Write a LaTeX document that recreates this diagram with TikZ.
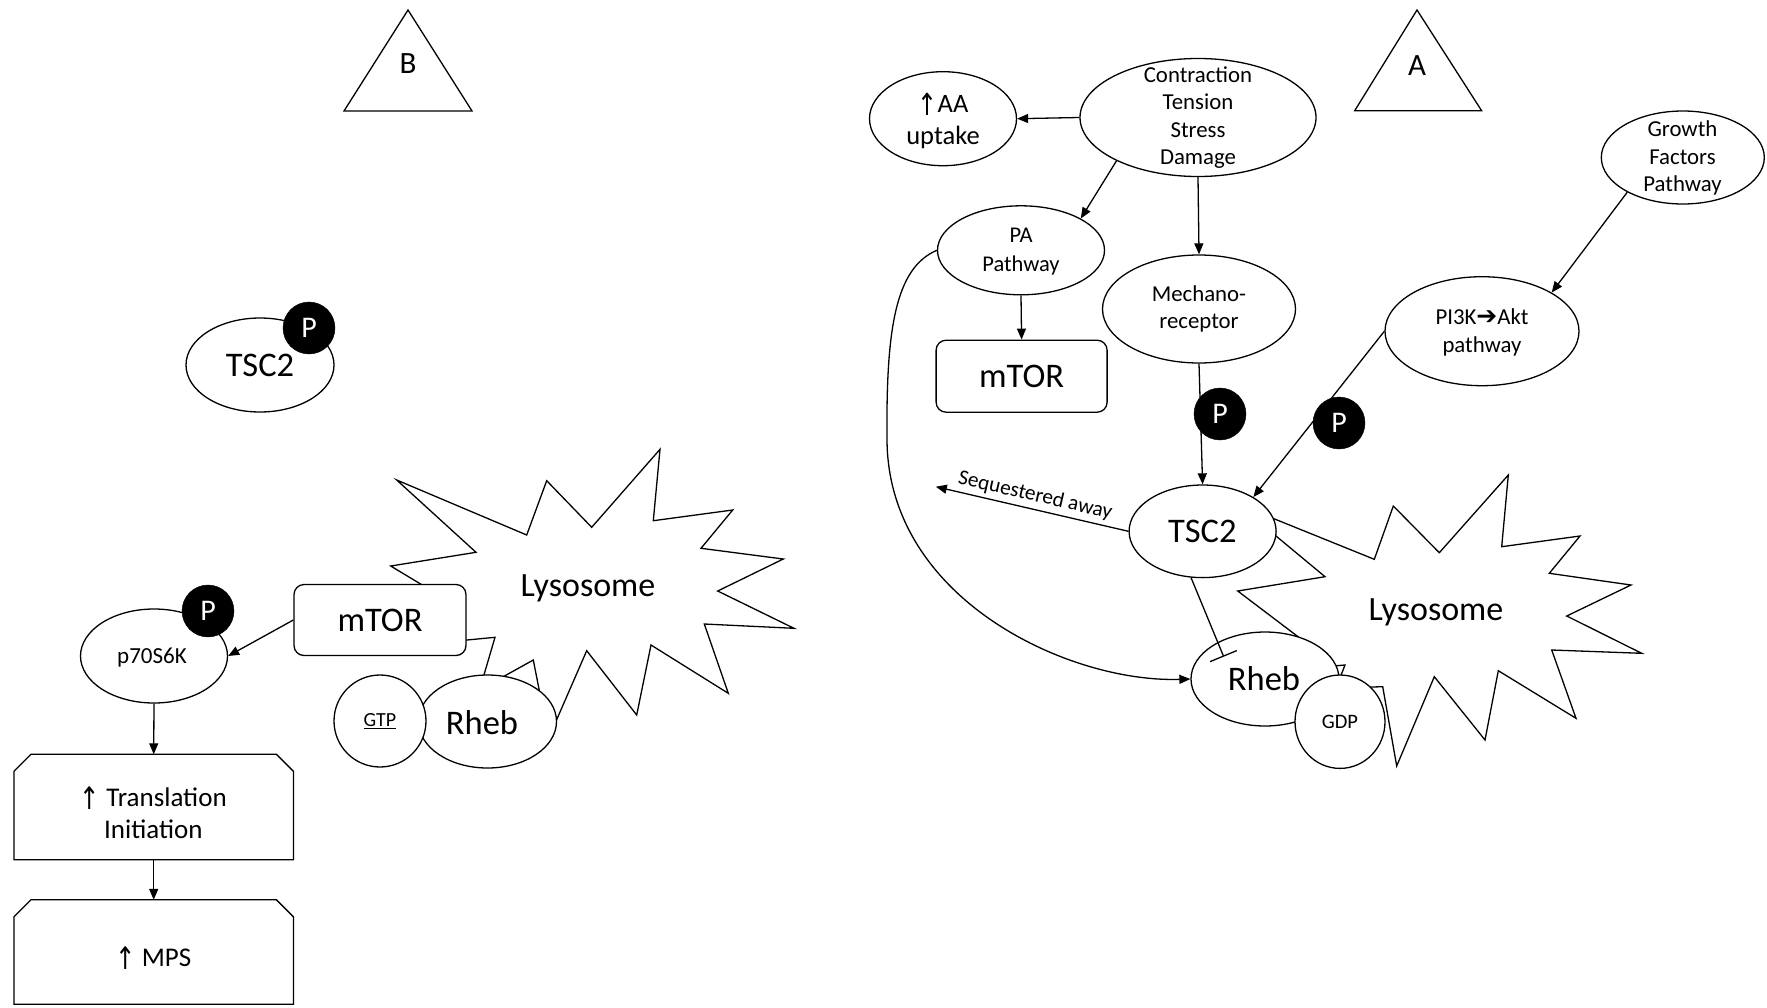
\documentclass[tikz,border=0pt]{standalone}
\usepackage{graphicx}
\usepackage{fontspec}
\setmainfont{Carlito}
\newfontfamily\symf{DejaVu Sans}
\usetikzlibrary{arrows.meta,shapes.geometric,calc}
\newcommand\myfs[2]{\fontsize{#1}{#2}\selectfont}
\newcommand\upar{{\symf\raisebox{-0.1em}{\scalebox{0.9}[1.15]{↑}}}}
\tikzset{
  ln/.style={line width=1.3pt},
  ell/.style={ellipse, draw, fill=white, line width=1.3pt, inner sep=0pt},
  circ/.style={circle, draw, fill=white, line width=1.3pt, inner sep=0pt},
  pc/.style={circle, fill=black, draw=black, inner sep=0pt, minimum size=52pt, text=white, font=\myfs{30}{30}},
  lbl/.style={align=center, inner sep=0pt},
  rbox/.style={rectangle, rounded corners=10pt, draw, fill=white, line width=1.3pt, inner sep=0pt},
  geo/.style={rectangle, inner sep=0pt, draw=none},
  arr/.style={-{Triangle[length=11pt,width=9pt]}, line width=1.3pt},
  star/.style={draw, fill=white, line width=1.3pt, line join=miter},
  big/.style={lbl, font=\myfs{34.5}{34.5}},
  tri/.style={lbl, font=\myfs{31}{31}},
  mid/.style={lbl, font=\myfs{22.8}{27.5}},
}
\begin{document}
\begin{tikzpicture}[x=1pt,y=-1pt]
\useasboundingbox (0,0) rectangle (1767,1007);
\fill[white] (0,0) rectangle (1767,1007);

% ---------------- Panel B (left) ----------------
\draw[ln] (408,10) -- (472,111) -- (344,111) -- cycle;
\node[tri] (labB) at (408,64) {B};

\node[ell, minimum width=148pt, minimum height=94pt] (tsc2l) at (260,365) {};
\node[big] (tsc2lt) at (260,365) {TSC2};
\node[pc] (pl1) at (309,328) {P};

\draw[star] (396.7,480) -- (526.7,535) -- (546.7,480.7) -- (591.7,527.3) -- (660,449.3)
  -- (653.3,520.7) -- (732.7,510) -- (701,548.3) -- (783.3,559) -- (717.7,591)
  -- (794,628.3) -- (704.3,624) -- (728.3,693.3) -- (651,645) -- (636.7,715)
  -- (586.7,650.7) -- (552.3,729.7) -- (541.7,702.7) -- (533.3,660) -- (488.3,685)
  -- (481,685) -- (495,637.3) -- (456.7,641) -- (446,599.3) -- (390.7,566)
  -- (476,552.3) -- cycle;
\node[lbl, font=\myfs{34}{34}] (lysl) at (588,588) {Lysosome};

\node[rbox, minimum width=172pt, minimum height=71pt, font=\myfs{34.5}{34.5}] (mtorl) at (380,620) {mTOR};

\node[ell, minimum width=138pt, minimum height=93pt] (rhebl) at (487.5,721.5) {};
\node[big] (rheblt) at (482,723) {Rheb};
\node[circ, minimum size=92pt, font=\myfs{20}{20}] (gtp) at (380,721) {\underline{GTP}};

\node[ell, minimum width=147pt, minimum height=94pt] (p70) at (154,656) {};
\node[lbl, font=\myfs{23}{23}] (p70t) at (152,658) {p70S6K};
\node[pc] (pl2) at (208,611) {P};

\node[geo, minimum width=279pt, minimum height=105pt] (trans) at (153.7,807) {};
\draw[ln, fill=white] ([yshift=-17pt]trans.north west) -- ([xshift=17pt]trans.north west)
  -- ([xshift=-17pt]trans.north east) -- ([yshift=-17pt]trans.north east)
  -- (trans.south east) -- (trans.south west) -- cycle;
\node[lbl, font=\myfs{27}{32}] (transt) at (153.3,812.5) {\upar{} Translation\\Initiation};

\node[geo, minimum width=279pt, minimum height=104pt] (mps) at (153.7,952) {};
\draw[ln, fill=white] ([yshift=-17pt]mps.north west) -- ([xshift=17pt]mps.north west)
  -- ([xshift=-17pt]mps.north east) -- ([yshift=-17pt]mps.north east)
  -- (mps.south east) -- (mps.south west) -- cycle;
\node[lbl, font=\myfs{27}{32}] (mpst) at (153.3,958) {\upar{} MPS};

\draw[arr] (mtorl.west) -- (p70.east);
\draw[arr] (p70.south) -- (trans.north);
\draw[arr] (trans.south) -- (mps.north);

% ---------------- Panel A (right) ----------------
\draw[ln] (1417,10) -- (1481.6,110.7) -- (1354.7,110.7) -- cycle;
\node[tri] (labA) at (1417,66) {A};

\node[ell, minimum width=236pt, minimum height=118pt] (ctd) at (1198,117.5) {};
\node[mid] (ctdt) at (1198,117.5) {Contraction\\Tension\\Stress\\Damage};

\node[ell, minimum width=147pt, minimum height=94pt] (aa) at (943,118.7) {};
\node[lbl, font=\myfs{26.5}{31.7}] (aat) at (943,121) {\upar{}AA\\uptake};

\node[ell, minimum width=167pt, minimum height=89pt] (pa) at (1021,250.3) {};
\node[lbl, font=\myfs{22.5}{28.4}] (pat) at (1021,251.5) {PA\\Pathway};

\node[rbox, minimum width=171pt, minimum height=72pt, font=\myfs{34.5}{34.5}] (mtorr) at (1021.6,376.2) {mTOR};

\node[ell, minimum width=193pt, minimum height=108pt] (mech) at (1199,309) {};
\node[mid] (mecht) at (1199,309) {Mechano-\\receptor};

\node[ell, minimum width=163pt, minimum height=93pt] (gf) at (1682.8,157.5) {};
\node[mid] (gft) at (1682.5,158) {Growth\\Factors\\Pathway};

\node[ell, minimum width=194pt, minimum height=109pt] (pi3k) at (1482,331.2) {};
\node[mid] (pi3kt) at (1482,332.5) {PI3K{\symf\fontsize{25}{25}\selectfont ➔}Akt\\pathway};

\draw[star] (1237.5,504) -- (1374.3,559.3) -- (1393.3,506) -- (1439.3,552.7) -- (1508.3,475)
  -- (1501.7,546.7) -- (1580,536) -- (1549.3,573.3) -- (1631,585) -- (1566.7,616)
  -- (1641.7,653.3) -- (1551.7,650) -- (1576,718.3) -- (1498.3,670.7) -- (1485,740)
  -- (1434.3,676.7) -- (1396.7,766) -- (1382.7,686.7) -- (1336,688) -- (1345,665)
  -- (1310,668) -- (1305,642) -- (1237.7,591) -- (1325,576.7) -- cycle;
\node[lbl, font=\myfs{34}{34}] (lysr) at (1436,612) {Lysosome};

\node[ell, minimum width=147pt, minimum height=92.6pt] (tsc2r) at (1202.6,531.3) {};
\node[big] (tsc2rt) at (1202.3,531.7) {TSC2};

\node[ell, minimum width=148pt, minimum height=94pt] (rhebr) at (1265,679) {};
\node[big] (rhebrt) at (1264,678.3) {Rheb};
\node[ell, minimum width=90pt, minimum height=93.4pt, font=\myfs{20.5}{20.5}] (gdp) at (1340,721.7) {GDP};

\coordinate (seqend) at (935.8,486.7);
\coordinate (curvemid) at (887,440);
\coordinate (inhend) at (1223.7,656.7);

\draw[arr] (ctd.west) -- (aa.east);
\draw[arr] (ctd.208) -- (pa.28);
\draw[arr] (ctd.south) -- (mech.north);
\draw[arr] (pa.south) -- (mtorr.north);
\draw[arr] (gf.212) -- (pi3k.29);
\draw[arr] (mech.south) -- (tsc2r.north);
\draw[arr] (pi3k.west) -- (tsc2r.34);
\draw[{Triangle[length=11pt,width=9pt]}-, ln] (seqend) -- (tsc2r.west)
  node[midway, sloped, above=4pt, inner sep=0pt, font=\myfs{21.3}{21.3}] (seqt) {Sequestered away};
\draw[arr] (pa.west) .. controls (895,268) and (886,330) .. (curvemid)
  .. controls (888,600) and (1070,683) .. (rhebr.west);
\draw[ln, -{Bar[width=29pt]}] (tsc2r.256) -- (inhend);

\node[pc] (pr1) at (1220,414) {P};
\node[pc] (pr2) at (1339,423) {P};
\end{tikzpicture}
\end{document}
